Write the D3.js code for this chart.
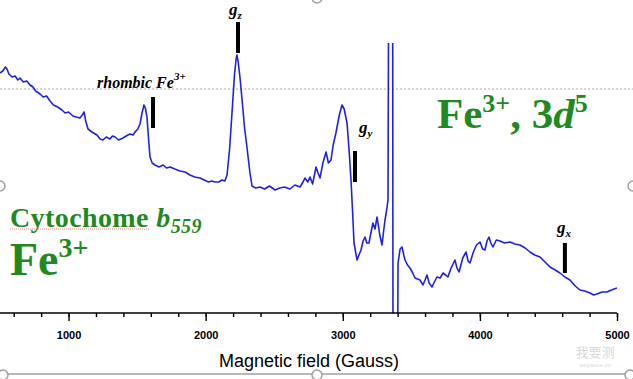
<!DOCTYPE html>
<html>
<head>
<meta charset="utf-8">
<script src="https://cdn.jsdelivr.net/npm/d3@7"></script>
<style>
  body { margin: 0; background: #fff; }
  svg { display: block; }
</style>
</head>
<body>
<div id="chart"></div>
<script>
// EPR spectrum, field in Gauss, signal in arbitrary units
const fieldGauss = [500, 520, 540, 551, 565, 588, 610, 630, 646, 670, 695, 719, 740, 760, 792, 815, 840, 865, 890, 920, 952, 975, 1000, 1032, 1055, 1083, 1100, 1113, 1125, 1142, 1170, 1207, 1230, 1251, 1275, 1302, 1320, 1339, 1365, 1397, 1420, 1448, 1470, 1485, 1505, 1521, 1536, 1550, 1560, 1572, 1583, 1594, 1610, 1630, 1660, 1690, 1715, 1740, 1775, 1813, 1850, 1885, 1920, 1959, 1990, 2020, 2045, 2068, 2095, 2119, 2140, 2156, 2175, 2192, 2210, 2222, 2228, 2236, 2250, 2265, 2283, 2301, 2323, 2338, 2365, 2396, 2430, 2465, 2506, 2540, 2575, 2615, 2651, 2688, 2710, 2724, 2745, 2761, 2780, 2805, 2820, 2834, 2855, 2878, 2895, 2914, 2930, 2950, 2975, 2994, 3010, 3031, 3045, 3060, 3072, 3082, 3104, 3118, 3133, 3148, 3162, 3175, 3191, 3205, 3220, 3235, 3250, 3270, 3286, 3298, 3308, 3320, 3330, 3340, 3362, 3368, 3392, 3403, 3418, 3432, 3445, 3454, 3472, 3490, 3510, 3527, 3545, 3563, 3585, 3600, 3614, 3630, 3651, 3668, 3687, 3710, 3731, 3750, 3767, 3790, 3818, 3833, 3848, 3875, 3899, 3914, 3928, 3950, 3975, 4001, 4020, 4037, 4052, 4066, 4080, 4095, 4120, 4147, 4180, 4219, 4255, 4292, 4330, 4365, 4400, 4438, 4475, 4511, 4550, 4584, 4620, 4657, 4695, 4730, 4765, 4803, 4830, 4854, 4890, 4927, 4960, 5000];
const signal = [240, 242, 246, 244, 239, 236, 237, 233, 235, 231, 232, 228, 226, 222, 219, 216, 217, 212, 208, 206, 203, 200, 201, 197, 196, 195, 198, 201, 192, 184, 181, 178, 174, 173, 176, 174, 177, 176, 173, 175, 177, 179, 178, 181, 184, 189, 200, 208, 205, 196, 175, 156, 150, 148, 146, 148, 145, 146, 144, 142, 141, 138, 136, 135, 133, 131, 132, 131, 131, 133, 132, 138, 165, 200, 238, 254, 258, 252, 236, 214, 186, 166, 140, 127, 125, 126, 124, 127, 123, 125, 126, 124, 128, 126, 131, 135, 131, 136, 129, 146, 140, 135, 150, 161, 150, 153, 168, 180, 198, 208, 204, 190, 165, 133, 100, 70, 53, 58, 63, 72, 76, 70, 70, 80, 90, 84, 96, 78, 68, 82, 93, 103, 113, 600, 600, -300, -300, 50, 64, 66, 58, 53, 48, 45, 40, 35, 34, 33, 28, 33, 38, 30, 26, 31, 36, 35, 40, 38, 36, 45, 53, 45, 41, 55, 61, 52, 50, 60, 68, 71, 64, 63, 72, 76, 70, 66, 73, 72, 70, 71, 69, 68, 65, 61, 58, 56, 51, 46, 43, 40, 36, 33, 27, 23, 22, 20, 18, 19, 21, 21, 23, 25];

// g-value markers: position and top/bottom of the bar
const markerField = [1616, 2236, 3089, 4620];
const markerTop = [216, 291, 162, 70];
const markerBottom = [185, 260, 131, 40];

const minorTicks = d3.range(600, 5001, 200);
const majorTicks = [1000, 2000, 3000, 4000, 5000];

const width = 633, height = 379;
const green = "#1f8a22";
const serif = "'Liberation Serif', 'Times New Roman', serif";
const sans = "'Liberation Sans', Arial, sans-serif";

const svg = d3.select("#chart").append("svg")
  .attr("width", width)
  .attr("height", height);

const x = d3.scaleLinear().domain([500, 5000]).range([0, 617]);
const y = d3.scaleLinear().domain([0, 270]).range([313, 43]);

// dotted guide line
svg.append("line")
  .attr("x1", 0).attr("x2", width)
  .attr("y1", 89).attr("y2", 89)
  .attr("stroke", "#9a9a9a")
  .attr("stroke-width", 0.8)
  .attr("stroke-dasharray", "2,2");

svg.append("clipPath").attr("id", "plotClip")
  .append("rect").attr("x", 0).attr("y", 43).attr("width", 617).attr("height", 270);

const pts = fieldGauss.map((g, i) => [g, signal[i]]);
const line = d3.line().x(d => x(d[0])).y(d => y(d[1]));

svg.append("path")
  .datum(pts)
  .attr("clip-path", "url(#plotClip)")
  .attr("fill", "none")
  .attr("stroke", "#2020e8")
  .attr("stroke-width", 1.6)
  .attr("stroke-linejoin", "round")
  .attr("d", line);

// markers
svg.selectAll(".marker").data(markerField).enter().append("line")
  .attr("class", "marker")
  .attr("x1", d => x(d)).attr("x2", d => x(d))
  .attr("y1", (d, i) => y(markerTop[i]))
  .attr("y2", (d, i) => y(markerBottom[i]))
  .attr("stroke", "#000")
  .attr("stroke-width", 4);

// x axis
const axisG = svg.append("g").attr("transform", "translate(0,313)");
axisG.append("g")
  .call(d3.axisBottom(x).tickValues(minorTicks).tickSize(4).tickSizeOuter(0).tickFormat(""))
  .call(g => g.select(".domain").remove());
const major = axisG.append("g")
  .call(d3.axisBottom(x).tickValues(majorTicks).tickSize(8).tickPadding(10).tickSizeOuter(0).tickFormat(d3.format("d")));
major.select(".domain").attr("d", "M0,0H617");
axisG.selectAll("line").attr("stroke", "#000").attr("stroke-width", 1.4);
axisG.selectAll(".domain").attr("stroke", "#000").attr("stroke-width", 1.6);
major.selectAll("text")
  .style("font-family", sans)
  .style("font-size", "11px")
  .style("font-weight", "bold")
  .attr("fill", "#000");

svg.append("text")
  .attr("x", 309).attr("y", 367)
  .attr("text-anchor", "middle")
  .style("font-family", sans)
  .style("font-size", "18px")
  .text("Magnetic field (Gauss)");

// annotation labels
const rh = svg.append("text")
  .attr("x", 97).attr("y", 88)
  .style("font-family", serif)
  .style("font-size", "16px")
  .style("font-weight", "bold")
  .style("font-style", "italic");
rh.append("tspan").text("rhombic Fe");
rh.append("tspan").attr("dy", -8).style("font-size", "11px").text("3+");

function gLabel(px, py, sub) {
  const t = svg.append("text")
    .attr("x", px).attr("y", py)
    .style("font-family", serif)
    .style("font-weight", "bold")
    .style("font-style", "italic")
    .style("font-size", "17px");
  t.append("tspan").text("g");
  t.append("tspan").attr("dy", 4).style("font-size", "11px").text(sub);
}
gLabel(229, 15, "z");
gLabel(359, 133, "y");
gLabel(557, 233, "x");

// green headings
const fe = svg.append("text")
  .attr("x", 437).attr("y", 128)
  .attr("fill", green)
  .style("font-family", serif)
  .style("font-weight", "bold")
  .style("font-size", "43px");
fe.append("tspan").text("Fe");
fe.append("tspan").attr("dy", -16).style("font-size", "26px").text("3+");
fe.append("tspan").attr("dy", 16).text(", 3");
fe.append("tspan").style("font-style", "italic").text("d");
fe.append("tspan").attr("dy", -16).style("font-size", "26px").text("5");

const cyt = svg.append("text")
  .attr("x", 10).attr("y", 227)
  .attr("fill", green)
  .style("font-family", serif)
  .style("font-weight", "bold")
  .style("font-size", "28px")
  .style("letter-spacing", "0.4px");
cyt.append("tspan").text("Cytochome ");
cyt.append("tspan").style("font-style", "italic").text("b");
cyt.append("tspan").attr("dy", 6).style("font-style", "italic").style("font-size", "20px").text("559");

svg.append("line")
  .attr("x1", 10).attr("x2", 150)
  .attr("y1", 229).attr("y2", 229)
  .attr("stroke", "#f08080")
  .attr("stroke-width", 1)
  .attr("stroke-dasharray", "1,1");

const fe2 = svg.append("text")
  .attr("x", 10).attr("y", 275)
  .attr("fill", green)
  .style("font-family", serif)
  .style("font-weight", "bold")
  .style("font-size", "46px");
fe2.append("tspan").text("Fe");
fe2.append("tspan").attr("dy", -18).style("font-size", "28px").text("3+");

// slide frame and handles
svg.append("line")
  .attr("x1", 0).attr("x2", width).attr("y1", 374).attr("y2", 374)
  .attr("stroke", "#a0a0a0").attr("stroke-width", 1.5);
const handles = [[317, -2], [0, 186], [633, 186], [3, 375], [317, 375], [630, 375]];
svg.selectAll(".handle").data(handles).enter().append("circle")
  .attr("cx", d => d[0]).attr("cy", d => d[1]).attr("r", 5)
  .attr("fill", "#fff").attr("stroke", "#a0a0a0").attr("stroke-width", 1.5);

// watermark
svg.append("text")
  .attr("x", 595).attr("y", 357)
  .attr("text-anchor", "middle")
  .attr("fill", "#d8d8d8")
  .style("font-family", "'Noto Sans CJK SC', sans-serif")
  .style("font-size", "13px")
  .text("我要测");
svg.append("text")
  .attr("x", 595).attr("y", 367)
  .attr("text-anchor", "middle")
  .attr("fill", "#d8d8d8")
  .style("font-family", sans)
  .style("font-size", "6px")
  .text("woyaoce.cn");
</script>
</body>
</html>
